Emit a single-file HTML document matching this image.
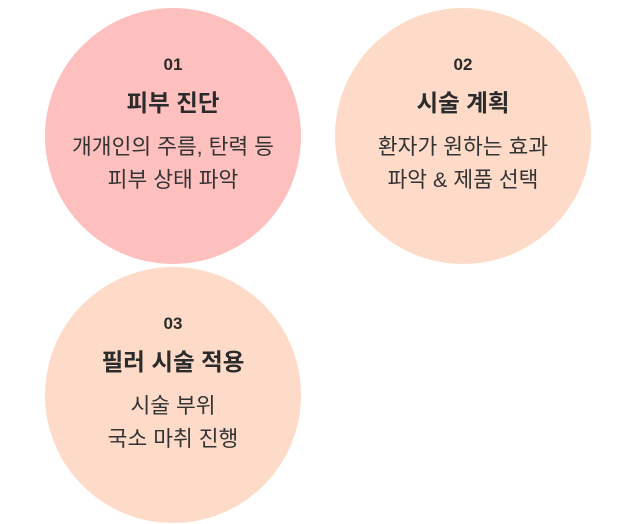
<!DOCTYPE html>
<html><head><meta charset="utf-8"><style>
html,body{margin:0;padding:0;background:#fff;}
body{width:640px;height:524px;position:relative;overflow:hidden;font-family:"Liberation Sans","Noto Sans CJK KR",sans-serif;color:#2b2b2b;}
.c{position:absolute;width:256px;height:256px;border-radius:50%;text-align:center;}
.n{position:absolute;left:0;right:0;top:46px;font-size:17px;font-weight:bold;line-height:22px;}
.t{position:absolute;left:0;right:0;top:80px;font-size:23.5px;font-weight:bold;line-height:30px;}
.b{position:absolute;left:0;right:0;top:123px;font-size:21.5px;line-height:33px;color:#333;}
</style></head><body>
<div class="c" style="left:45px;top:8px;background:#fdc0be;">
<div class="n">01</div><div class="t">피부 진단</div><div class="b">개개인의 주름, 탄력 등<br>피부 상태 파악</div></div>
<div class="c" style="left:335px;top:8px;background:#fddbc8;">
<div class="n">02</div><div class="t">시술 계획</div><div class="b">환자가 원하는 효과<br>파악 &amp; 제품 선택</div></div>
<div class="c" style="left:45px;top:267px;background:#fddbc8;">
<div class="n">03</div><div class="t">필러 시술 적용</div><div class="b">시술 부위<br>국소 마취 진행</div></div>
</body></html>
